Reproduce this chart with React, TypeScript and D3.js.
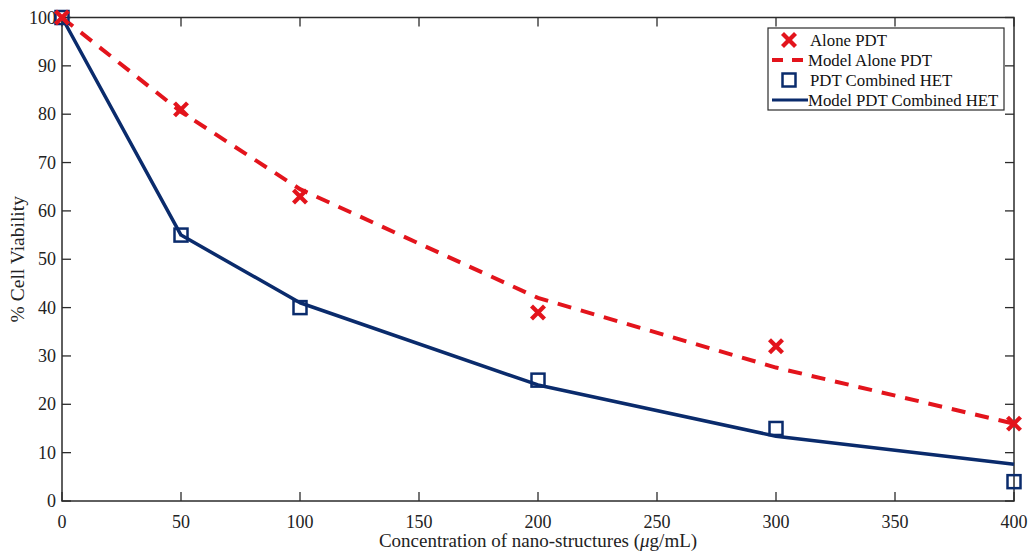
import React from 'react';
import * as d3 from 'd3';

const W = 1029;
const H = 551;
const MARGIN = { top: 17.5, right: 15, bottom: 50, left: 62 };

const conc = [0, 50, 100, 200, 300, 400];
const alonePDT = [100, 81, 63, 39, 32, 16];
const modelAlonePDT = [100, 80.5, 64.5, 42, 27.6, 16];
const combinedHET = [100, 55, 40, 25, 15, 4];
const modelCombinedHET = [100, 55, 41, 24, 13.4, 7.6];

const xTicks = [0, 50, 100, 150, 200, 250, 300, 350, 400];
const yTicks = [0, 10, 20, 30, 40, 50, 60, 70, 80, 90, 100];

const legendItems = ['Alone PDT', 'Model Alone PDT', 'PDT Combined HET', 'Model PDT Combined HET'];

const RED = '#e3141c';
const BLUE = '#0a2b6c';
const AXIS = '#2b2b2b';
const FONT = '"Liberation Serif", "Times New Roman", serif';

export default function App() {
  const innerW = W - MARGIN.left - MARGIN.right;
  const innerH = H - MARGIN.top - MARGIN.bottom;

  const x = d3.scaleLinear().domain([0, 400]).range([0, innerW]);
  const y = d3.scaleLinear().domain([0, 100]).range([innerH, 0]);

  const line = d3.line<number>()
    .x((_, i) => x(conc[i]))
    .y(d => y(d));

  const tick = 9;

  const cross = (cx: number, cy: number, key: string) => (
    <g key={key} stroke={RED} strokeWidth={4.2} strokeLinecap="butt">
      <line x1={cx - 6.5} y1={cy - 6.5} x2={cx + 6.5} y2={cy + 6.5} />
      <line x1={cx - 6.5} y1={cy + 6.5} x2={cx + 6.5} y2={cy - 6.5} />
    </g>
  );

  const square = (cx: number, cy: number, key: string) => (
    <rect key={key} x={cx - 6.5} y={cy - 6.5} width={13} height={13}
      fill="none" stroke={BLUE} strokeWidth={2.5} />
  );

  // legend box in pixel terms, relative to the plot origin
  const lgX = 768 - MARGIN.left;
  const lgY = 28 - MARGIN.top;
  const lgW = 236;
  const lgH = 82;
  const rowH = 20;

  return (
    <div style={{ position: 'absolute', left: 0, top: 0 }}>
      <svg width={W} height={H} style={{ display: 'block', background: '#fff' }} fontFamily={FONT}>
        <g transform={`translate(${MARGIN.left},${MARGIN.top})`}>
          <rect x={0} y={0} width={innerW} height={innerH} fill="none" stroke={AXIS} strokeWidth={1.5} />

          {xTicks.map(t => (
            <g key={`xt${t}`}>
              <line x1={x(t)} x2={x(t)} y1={innerH} y2={innerH - tick} stroke={AXIS} strokeWidth={1.3} />
              <line x1={x(t)} x2={x(t)} y1={0} y2={tick} stroke={AXIS} strokeWidth={1.3} />
              <text x={x(t)} y={innerH + 27} textAnchor="middle" fontSize={18} fill="#222">{t}</text>
            </g>
          ))}

          {yTicks.map(t => (
            <g key={`yt${t}`}>
              <line x1={0} x2={tick} y1={y(t)} y2={y(t)} stroke={AXIS} strokeWidth={1.3} />
              <line x1={innerW} x2={innerW - tick} y1={y(t)} y2={y(t)} stroke={AXIS} strokeWidth={1.3} />
              <text x={-6} y={y(t) + 6} textAnchor="end" fontSize={18} fill="#222">{t}</text>
            </g>
          ))}

          <path d={line(modelCombinedHET) || ''} fill="none" stroke={BLUE} strokeWidth={3.5} strokeLinejoin="round" />
          <path d={line(modelAlonePDT) || ''} fill="none" stroke={RED} strokeWidth={4}
            strokeDasharray="14,10" />

          {combinedHET.map((v, i) => square(x(conc[i]), y(v), `sq${i}`))}
          {alonePDT.map((v, i) => cross(x(conc[i]), y(v), `cx${i}`))}

          <g transform={`translate(${lgX},${lgY})`}>
            <rect x={0} y={0} width={lgW} height={lgH} fill="#fff" stroke={AXIS} strokeWidth={1.2} />
            {legendItems.map((label, i) => {
              const cy = 12 + i * rowH;
              return (
                <g key={label}>
                  {i === 0 && cross(21, cy, 'lgc')}
                  {i === 1 && (
                    <line x1={4} x2={40} y1={cy} y2={cy} stroke={RED} strokeWidth={4} strokeDasharray="11,9" />
                  )}
                  {i === 2 && square(21, cy, 'lgs')}
                  {i === 3 && (
                    <line x1={4} x2={40} y1={cy} y2={cy} stroke={BLUE} strokeWidth={3} />
                  )}
                  <text x={i === 1 || i === 3 ? 40 : 42} y={cy + 6} fontSize={16.8} fill="#111">{label}</text>
                </g>
              );
            })}
          </g>

          <text x={innerW / 2} y={innerH + 46} textAnchor="middle" fontSize={19} fill="#222">
            Concentration of nano-structures (<tspan fontStyle="italic">μ</tspan>g/mL)
          </text>
          <text transform={`translate(${-38},${innerH / 2}) rotate(-90)`} textAnchor="middle" fontSize={19.5} fill="#222">
            % Cell Viability
          </text>
        </g>
      </svg>
    </div>
  );
}
